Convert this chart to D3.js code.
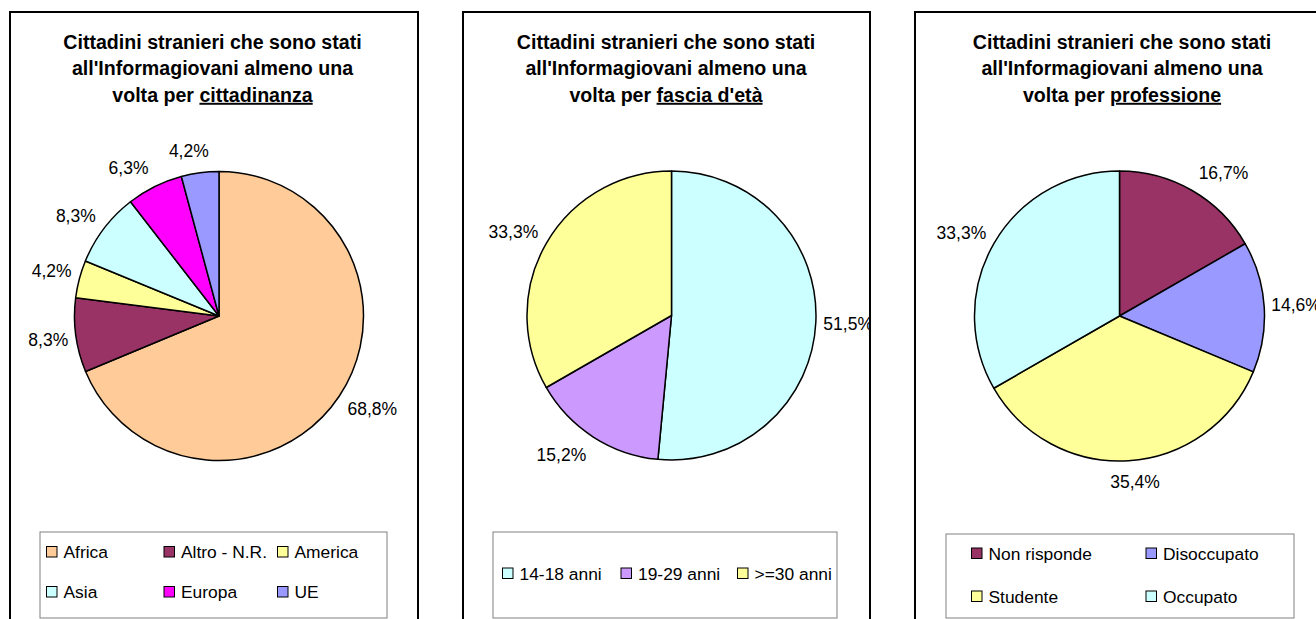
<!DOCTYPE html>
<html>
<head>
<meta charset="utf-8">
<script src="https://cdn.jsdelivr.net/npm/d3@7"></script>
<style>
  html, body { margin: 0; padding: 0; background: #fff; }
  svg { display: block; }
  text { font-family: Arial, "Liberation Sans", sans-serif; fill: #000; }
</style>
</head>
<body>
<svg id="chart" width="1316" height="619"></svg>
<script>
// ---------- DATA ----------
const titleLines = ["Cittadini stranieri che sono stati", "all'Informagiovani almeno una", "volta per "];
const titleKeywords = ["cittadinanza", "fascia d'età", "professione"];

const cittadinanzaCategories = ["Africa", "Altro - N.R.", "America", "Asia", "Europa", "UE"];
const cittadinanzaValues = [68.8, 8.3, 4.2, 8.3, 6.3, 4.2];

const etaCategories = ["14-18 anni", "19-29 anni", ">=30 anni"];
const etaValues = [51.5, 15.2, 33.3];

const professioneCategories = ["Non risponde", "Disoccupato", "Studente", "Occupato"];
const professioneValues = [16.7, 14.6, 35.4, 33.3];

// ---------- STYLE ----------
const cittadinanzaColors = ["#FFCC99", "#993366", "#FFFF99", "#CCFFFF", "#FF00FF", "#9999FF"];
const etaColors = ["#CCFFFF", "#CC99FF", "#FFFF99"];
const professioneColors = ["#993366", "#9999FF", "#FFFF99", "#CCFFFF"];

// ---------- LAYOUT ----------
const panels = [
  { cats: cittadinanzaCategories, vals: cittadinanzaValues, colors: cittadinanzaColors, key: titleKeywords[0],
    x0: 10, x1: 418, titleCx: 212.5, cx: 219, cy: 316, r: 144.5,
    legend: { x: 40, y: 532, w: 347, h: 86, cols: [46.5, 164, 277.5], rows: [552, 592] } },
  { cats: etaCategories, vals: etaValues, colors: etaColors, key: titleKeywords[1],
    x0: 463, x1: 870, titleCx: 666, cx: 671.5, cy: 315.5, r: 144.5,
    legend: { x: 493, y: 532, w: 344, h: 86, cols: [502.5, 621, 737.5], rows: [573.5] } },
  { cats: professioneCategories, vals: professioneValues, colors: professioneColors, key: titleKeywords[2],
    x0: 915, x1: 1331, titleCx: 1122, cx: 1119.5, cy: 316, r: 145,
    legend: { x: 946, y: 534, w: 348, h: 84, cols: [971.5, 1146], rows: [553.5, 596.5] } }
];

const svg = d3.select("#chart");
svg.append("rect").attr("width", 1316).attr("height", 619).attr("fill", "#fff");

const fmt = v => d3.format(".1f")(v).replace(".", ",") + "%";
const pie = d3.pie().sort(null).value(d => d);

panels.forEach((p, pi) => {
  const top = 12, bottom = 660;
  const clipId = "clip" + pi;
  svg.append("clipPath").attr("id", clipId)
    .append("rect").attr("x", p.x0).attr("y", top).attr("width", p.x1 - p.x0).attr("height", bottom - top);

  const g = svg.append("g").attr("clip-path", `url(#${clipId})`);
  g.append("rect").attr("x", p.x0).attr("y", top).attr("width", p.x1 - p.x0).attr("height", bottom - top)
    .attr("fill", "#fff");

  // Title
  const t = g.append("text").attr("text-anchor", "middle")
    .style("font-size", "19.6px").style("font-weight", "bold");
  const baselines = [48.5, 75.2, 101.8];
  titleLines.forEach((line, i) => {
    t.append("tspan").attr("x", p.titleCx).attr("y", baselines[i]).text(line);
    if (i === 2) {
      t.append("tspan").style("text-decoration", "underline").text(p.key);
    }
  });

  // Pie
  const arcs = pie(p.vals);
  const arc = d3.arc().innerRadius(0).outerRadius(p.r);
  const pg = g.append("g").attr("transform", `translate(${p.cx},${p.cy})`);
  pg.selectAll("path").data(arcs).join("path")
    .attr("d", arc)
    .attr("fill", (d, i) => p.colors[i])
    .attr("stroke", "#000").attr("stroke-width", 1.5).attr("stroke-linejoin", "round");

  // Labels (outside end, box pushed outward from its anchor)
  arcs.forEach((a, i) => {
    const mid = (a.startAngle + a.endAngle) / 2;
    const dx = Math.sin(mid), dy = -Math.cos(mid);
    const lbl = pg.append("text").style("font-size", "17.5px")
      .attr("text-anchor", "middle").text(fmt(p.vals[i]));
    const w = lbl.node().getComputedTextLength();
    const h = 13;
    const R = 152 + 8 * dy * dy;
    const ox = Math.sign(dx) * (w / 2) * Math.min(1, 3.5 * Math.abs(dx));
    const oy = Math.sign(dy) * (h / 2) * Math.min(1, 3.5 * Math.abs(dy));
    lbl.attr("x", dx * R + ox).attr("y", dy * R + oy + 6.3);
  });

  // Legend
  const L = p.legend;
  g.append("rect").attr("x", L.x).attr("y", L.y).attr("width", L.w).attr("height", L.h)
    .attr("fill", "#fff").attr("stroke", "#808080").attr("stroke-width", 1);
  const ncol = L.cols.length;
  p.cats.forEach((c, i) => {
    const col = i % ncol, row = Math.floor(i / ncol);
    const x = L.cols[col], y = L.rows[row];
    g.append("rect").attr("x", x).attr("y", y - 5.5).attr("width", 10.5).attr("height", 10.5)
      .attr("fill", p.colors[i]).attr("stroke", "#000").attr("stroke-width", 1);
    g.append("text").attr("x", x + 17).attr("y", y + 6.2)
      .style("font-size", "17.4px").text(c);
  });

  // Panel border
  svg.append("rect").attr("x", p.x0).attr("y", top).attr("width", p.x1 - p.x0).attr("height", bottom - top)
    .attr("fill", "none").attr("stroke", "#000").attr("stroke-width", 2);
});
</script>
</body>
</html>
